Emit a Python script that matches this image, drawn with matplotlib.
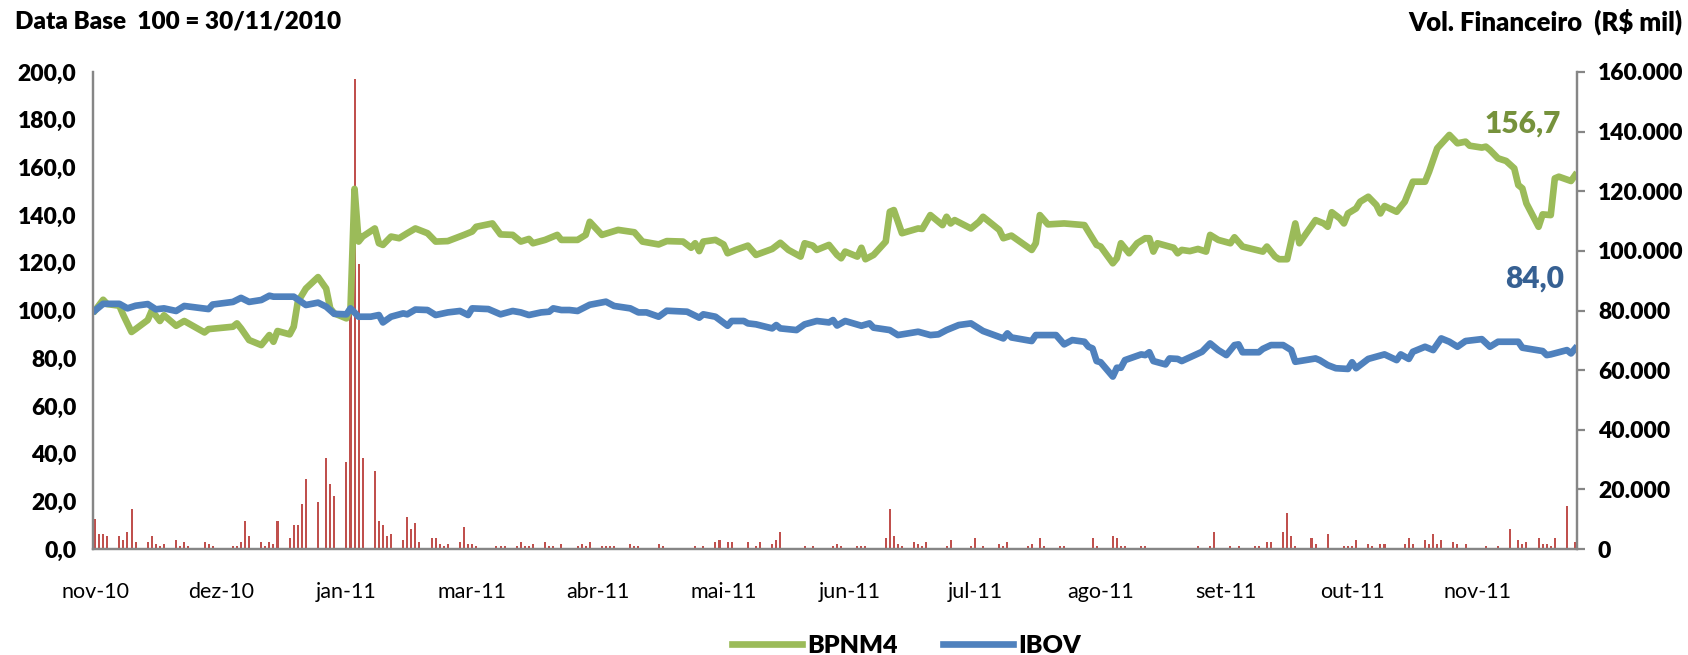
import numpy as np
import pandas as pd
import matplotlib.pyplot as plt
import matplotlib.ticker as ticker

from matplotlib import rcParams

config = {
    "font.family": ['Lato', 'DejaVu Sans'],
    "font.size": 15.5,
    "axes.unicode_minus": False,
}
rcParams.update(config)

# data base 100 = 30/11/2010, eixo x em dias corridos a partir da data base
data_base = pd.Timestamp('2010-11-30')

# BPNM4 (base 100)
dias_bpnm4 = [0, 2, 3, 6, 7, 9, 10, 13, 14, 16, 17, 20, 22, 27, 28, 34, 35, 36, 38, 41,
              43, 44, 45, 48, 49, 50, 52, 55, 57, 58, 59, 62, 63, 64, 65, 66, 69, 70, 71, 73,
              75, 77, 79, 82, 84, 87, 91, 93, 94, 98, 100, 103, 105, 107, 108, 111, 114, 115, 119, 121,
              122, 125, 129, 133, 135, 139, 141, 145, 147, 148, 149, 150, 153, 155, 156, 158, 161, 163, 167, 169,
              171, 174, 175, 177, 178, 181, 183, 184, 185, 188, 189, 190, 192, 195, 196, 197, 199, 203, 204, 206,
              209, 210, 211, 212, 216, 218, 219, 223, 224, 226, 231, 232, 233, 235, 239, 244, 245, 247, 248, 251,
              252, 253, 255, 257, 259, 260, 261, 262, 265, 266, 267, 268, 270, 272, 274, 275, 277, 280, 281, 283,
              288, 289, 291, 292, 294, 296, 297, 301, 303, 304, 305, 307, 308, 309, 311, 312, 314, 316, 317, 318,
              321, 323, 325, 328, 329, 331, 334, 336, 338, 339, 342, 343, 344, 346, 348, 350, 351, 352, 353, 356,
              357, 359, 360, 361, 364, 365]
bpnm4 = [100.0, 104.5, 102.7, 102.0, 98.0, 91.0, 92.2, 96.0, 100.0, 95.6, 98.0, 93.6, 95.6, 90.8, 92.2, 93.2, 94.6, 92.5, 87.6, 85.5,
         89.7, 86.9, 91.4, 90.0, 93.2, 103.6, 109.2, 114.0, 109.2, 100.9, 98.8, 96.7, 100.9, 151.0, 128.9, 131.0, 134.4, 128.2, 127.5, 131.0,
         130.3, 132.4, 134.4, 132.4, 128.9, 129.1, 131.7, 133.1, 135.1, 136.5, 131.9, 131.7, 128.9, 130.0, 128.2, 129.6, 131.7, 129.6, 129.6, 131.7,
         137.2, 131.7, 133.8, 132.8, 128.9, 127.7, 129.1, 128.9, 126.3, 128.2, 124.9, 128.9, 129.6, 127.7, 124.0, 125.4, 127.2, 123.3, 125.8, 128.4,
         125.4, 122.6, 128.2, 127.2, 125.4, 127.5, 123.3, 121.9, 124.7, 122.6, 126.3, 121.5, 123.3, 128.9, 141.4, 142.1, 132.4, 134.4, 134.2, 140.0,
         135.8, 139.3, 136.5, 137.9, 134.4, 137.2, 139.3, 133.8, 130.3, 131.4, 125.4, 128.2, 140.0, 136.1, 136.5, 135.8, 133.0, 127.5, 126.8, 119.8,
         121.9, 128.2, 124.0, 128.2, 130.3, 130.3, 124.7, 128.2, 126.8, 126.3, 124.0, 125.4, 124.9, 125.8, 124.7, 131.7, 129.6, 128.2, 130.7, 126.8,
         124.7, 126.8, 122.6, 121.5, 121.5, 136.5, 128.2, 137.9, 136.5, 135.1, 141.2, 138.6, 136.5, 140.7, 142.8, 145.6, 147.7, 144.2, 140.7, 143.8,
         141.4, 145.6, 154.0, 154.0, 158.2, 168.0, 173.6, 170.1, 170.8, 169.1, 168.3, 168.7, 167.3, 163.8, 162.7, 159.6, 152.6, 151.2, 144.9, 135.1,
         140.3, 140.0, 155.4, 156.1, 154.3, 156.7]

# IBOV (base 100)
dias_ibov = [0, 2, 6, 8, 10, 13, 15, 17, 20, 22, 28, 29, 34, 36, 38, 41, 43, 44, 49, 52,
             55, 57, 59, 62, 63, 65, 68, 70, 71, 73, 76, 77, 79, 82, 84, 87, 90, 92, 93, 97,
             100, 103, 105, 107, 110, 112, 113, 115, 117, 119, 122, 126, 128, 132, 134, 136, 139, 141, 146, 149,
             150, 153, 156, 157, 160, 161, 163, 167, 168, 169, 173, 175, 178, 181, 182, 183, 185, 189, 191, 192,
             196, 198, 203, 206, 208, 210, 213, 216, 219, 224, 225, 226, 231, 232, 237, 239, 241, 244, 245, 246,
             247, 248, 251, 252, 253, 254, 258, 259, 260, 261, 264, 265, 267, 268, 273, 275, 277, 279, 281, 282,
             283, 287, 288, 290, 293, 295, 296, 301, 302, 304, 306, 309, 310, 311, 314, 318, 321, 322, 324, 325,
             328, 330, 332, 334, 336, 338, 342, 344, 346, 351, 352, 357, 358, 359, 363, 364, 365]
ibov = [100.0, 102.8, 102.8, 100.9, 102.0, 102.7, 100.5, 100.9, 99.8, 101.9, 100.6, 102.5, 103.6, 105.3, 103.6, 104.4, 106.2, 105.8, 105.8, 102.3,
        103.3, 101.6, 98.6, 98.4, 100.9, 97.4, 97.4, 98.1, 95.0, 97.4, 98.8, 98.4, 100.4, 100.2, 98.1, 99.2, 99.8, 98.1, 100.9, 100.6,
        98.4, 99.8, 99.2, 98.1, 99.2, 99.5, 100.9, 100.2, 100.2, 99.8, 102.4, 103.7, 101.9, 100.9, 99.2, 99.2, 97.4, 99.9, 99.5, 97.0,
        98.4, 97.4, 93.6, 95.6, 95.6, 94.6, 94.2, 92.5, 93.9, 92.5, 91.8, 94.2, 95.6, 95.0, 96.0, 93.7, 95.6, 93.6, 94.6, 92.8,
        91.8, 89.7, 91.1, 89.7, 90.0, 91.8, 93.9, 94.6, 91.4, 88.3, 90.4, 88.7, 87.2, 89.7, 89.7, 85.8, 87.6, 86.9, 84.8, 84.1,
        78.8, 78.3, 72.3, 76.0, 76.0, 79.2, 81.6, 81.3, 82.5, 78.8, 77.4, 79.9, 79.7, 78.8, 82.7, 86.2, 83.4, 81.3, 85.5, 85.8,
        82.5, 82.5, 83.9, 85.5, 85.5, 83.4, 78.5, 79.9, 79.2, 77.1, 75.8, 75.5, 78.3, 75.8, 79.7, 81.6, 79.2, 81.6, 79.7, 82.7,
        84.8, 83.4, 88.3, 86.9, 84.8, 87.2, 88.0, 84.8, 86.9, 86.9, 84.4, 83.0, 81.3, 81.6, 83.4, 82.0, 84.0]

# Volume financeiro (R$ mil)
dias_vol = [0, 1, 2, 3, 6, 7, 8, 9, 10, 13, 14, 15, 16, 17, 20, 21, 22, 23, 27, 28,
            29, 34, 35, 36, 37, 38, 41, 42, 43, 44, 45, 48, 49, 50, 51, 52, 55, 57, 58, 59,
            62, 63, 64, 65, 66, 69, 70, 71, 72, 73, 76, 77, 78, 79, 80, 83, 84, 85, 86, 87,
            90, 91, 92, 93, 94, 99, 100, 101, 104, 105, 106, 107, 108, 111, 112, 113, 115, 119, 120, 121,
            122, 125, 126, 127, 128, 132, 133, 134, 139, 140, 148, 150, 153, 154, 156, 157, 161, 163, 164, 167,
            168, 169, 175, 177, 182, 183, 184, 188, 189, 190, 195, 196, 197, 198, 199, 202, 203, 204, 205, 210,
            211, 216, 217, 219, 223, 224, 225, 230, 231, 233, 234, 238, 239, 246, 247, 251, 252, 253, 254, 258,
            259, 272, 275, 276, 280, 282, 286, 287, 289, 290, 293, 294, 295, 296, 300, 301, 304, 308, 309, 310,
            311, 314, 315, 317, 318, 323, 324, 325, 328, 329, 330, 331, 332, 335, 336, 338, 343, 346, 349, 351,
            352, 353, 356, 357, 358, 359, 360, 363, 365]
vol = [10100, 5000, 5000, 4400, 4400, 3000, 5700, 13400, 2300, 2300, 4400, 1700, 1000, 1700, 3000, 1000, 2300, 1000, 2300, 1700,
       1000, 1000, 1000, 2300, 9400, 4400, 2300, 1000, 2300, 1700, 9400, 3700, 8100, 8100, 15100, 23500, 15800, 30400, 21800, 17800,
       29300, 80000, 157600, 95600, 30400, 26200, 9400, 8100, 4400, 5000, 3000, 10700, 6700, 8700, 2300, 3700, 3700, 1700, 1000, 1700,
       2300, 7400, 1700, 1700, 1000, 1000, 1000, 1000, 1000, 2300, 1000, 1000, 1700, 2300, 1000, 1000, 1700, 1000, 1700, 1000,
       2300, 1000, 1000, 1000, 1000, 1700, 1000, 1000, 1700, 1000, 1000, 1000, 2300, 3000, 2300, 2300, 2300, 1000, 2300, 1700,
       3000, 5700, 1000, 1000, 1000, 1700, 1000, 1000, 1000, 1000, 3700, 13400, 4400, 1700, 1000, 2300, 1700, 1000, 2300, 1000,
       3000, 1000, 3700, 1000, 1700, 1000, 2300, 1000, 1700, 3700, 1000, 1000, 1000, 3700, 1000, 4400, 3700, 1000, 1000, 1000,
       1000, 1000, 1000, 5700, 1000, 1000, 1000, 1000, 2300, 2300, 5700, 12100, 4400, 1000, 3700, 1700, 5000, 1000, 1000, 1000,
       3000, 1700, 1000, 1700, 1700, 1700, 3700, 1700, 3000, 1700, 5000, 1700, 3000, 2300, 1700, 1700, 1000, 1000, 6700, 3000,
       1700, 2300, 3700, 1700, 1700, 1000, 3700, 14400, 2300]

# eixo de datas do Excel: rotulos a cada 31 dias
rotulos_x = ['nov-10', 'dez-10', 'jan-11', 'mar-11', 'abr-11', 'mai-11',
             'jun-11', 'jul-11', 'ago-11', 'set-11', 'out-11', 'nov-11']

verde = '#9BBB59'
azul = '#4F81BD'
vermelho = '#C0504D'
cinza = '#868686'
peso = 'heavy'

datas_bpnm4 = data_base + pd.to_timedelta(dias_bpnm4, unit='D')
datas_ibov = data_base + pd.to_timedelta(dias_ibov, unit='D')
datas_vol = data_base + pd.to_timedelta(dias_vol, unit='D')
datas_ticks = data_base + pd.to_timedelta(np.arange(len(rotulos_x)) * 31, unit='D')

fig = plt.figure(figsize=(16.88, 6.55), dpi=100)
ax = fig.add_axes([0.0551, 0.1618, 0.8792, 0.7283])
ax2 = ax.twinx()

# volume no eixo da direita, linhas por cima
ax2.bar(datas_vol, vol, width=0.5, color=vermelho, zorder=1)
ax.set_zorder(ax2.get_zorder() + 1)
ax.patch.set_visible(False)

l1, = ax.plot(datas_bpnm4, bpnm4, color=verde, lw=4.8, solid_joinstyle='round', label='BPNM4')
l2, = ax.plot(datas_ibov, ibov, color=azul, lw=4.8, solid_joinstyle='round', label='IBOV')

ax.set_xlim(data_base - pd.Timedelta(hours=12), data_base + pd.Timedelta(days=365, hours=12))
ax.set_ylim(0, 200)
ax2.set_ylim(0, 160000)

ax.yaxis.set_major_locator(ticker.MultipleLocator(20))
ax.yaxis.set_major_formatter(ticker.FuncFormatter(lambda v, p: f'{v:.1f}'.replace('.', ',')))
ax2.yaxis.set_major_locator(ticker.MultipleLocator(20000))
ax2.yaxis.set_major_formatter(ticker.FuncFormatter(lambda v, p: f'{v:,.0f}'.replace(',', '.')))

ax.set_xticks(datas_ticks)
ax.set_xticklabels(rotulos_x)

for a in (ax, ax2):
    for s in a.spines.values():
        s.set_color(cinza)
        s.set_linewidth(1.6)
    a.spines['top'].set_visible(False)

ax.tick_params(axis='y', length=0, pad=12, labelsize=16.5)
ax.tick_params(axis='x', length=0, pad=24, labelsize=15.5)
ax2.tick_params(axis='y', length=6, width=1.6, color=cinza, pad=9, labelsize=16.5)
for lbl in ax.get_yticklabels() + ax2.get_yticklabels():
    lbl.set_fontweight(peso)

# valores finais
ax.text(0.989, 0.891, '156,7', transform=ax.transAxes, ha='right', va='center',
        fontsize=21.5, fontweight=peso, color='#76923C')
ax.text(0.991, 0.568, '84,0', transform=ax.transAxes, ha='right', va='center',
        fontsize=21.5, fontweight=peso, color='#366092')

fig.text(0.009, 0.967, 'Data Base  100 = 30/11/2010', ha='left', va='center',
         fontsize=17.5, fontweight=peso)
fig.text(0.997, 0.967, 'Vol. Financeiro  (R$ mil)', ha='right', va='center',
         fontsize=18.5, fontweight=peso)

fig.legend(handles=[l1, l2], loc='center', bbox_to_anchor=(0.537, 0.014), ncol=2,
           frameon=False, handlelength=2.8, handletextpad=0.2, columnspacing=1.8,
           prop={'weight': peso, 'size': 18})

plt.savefig('out.png', dpi=100)
plt.close()
